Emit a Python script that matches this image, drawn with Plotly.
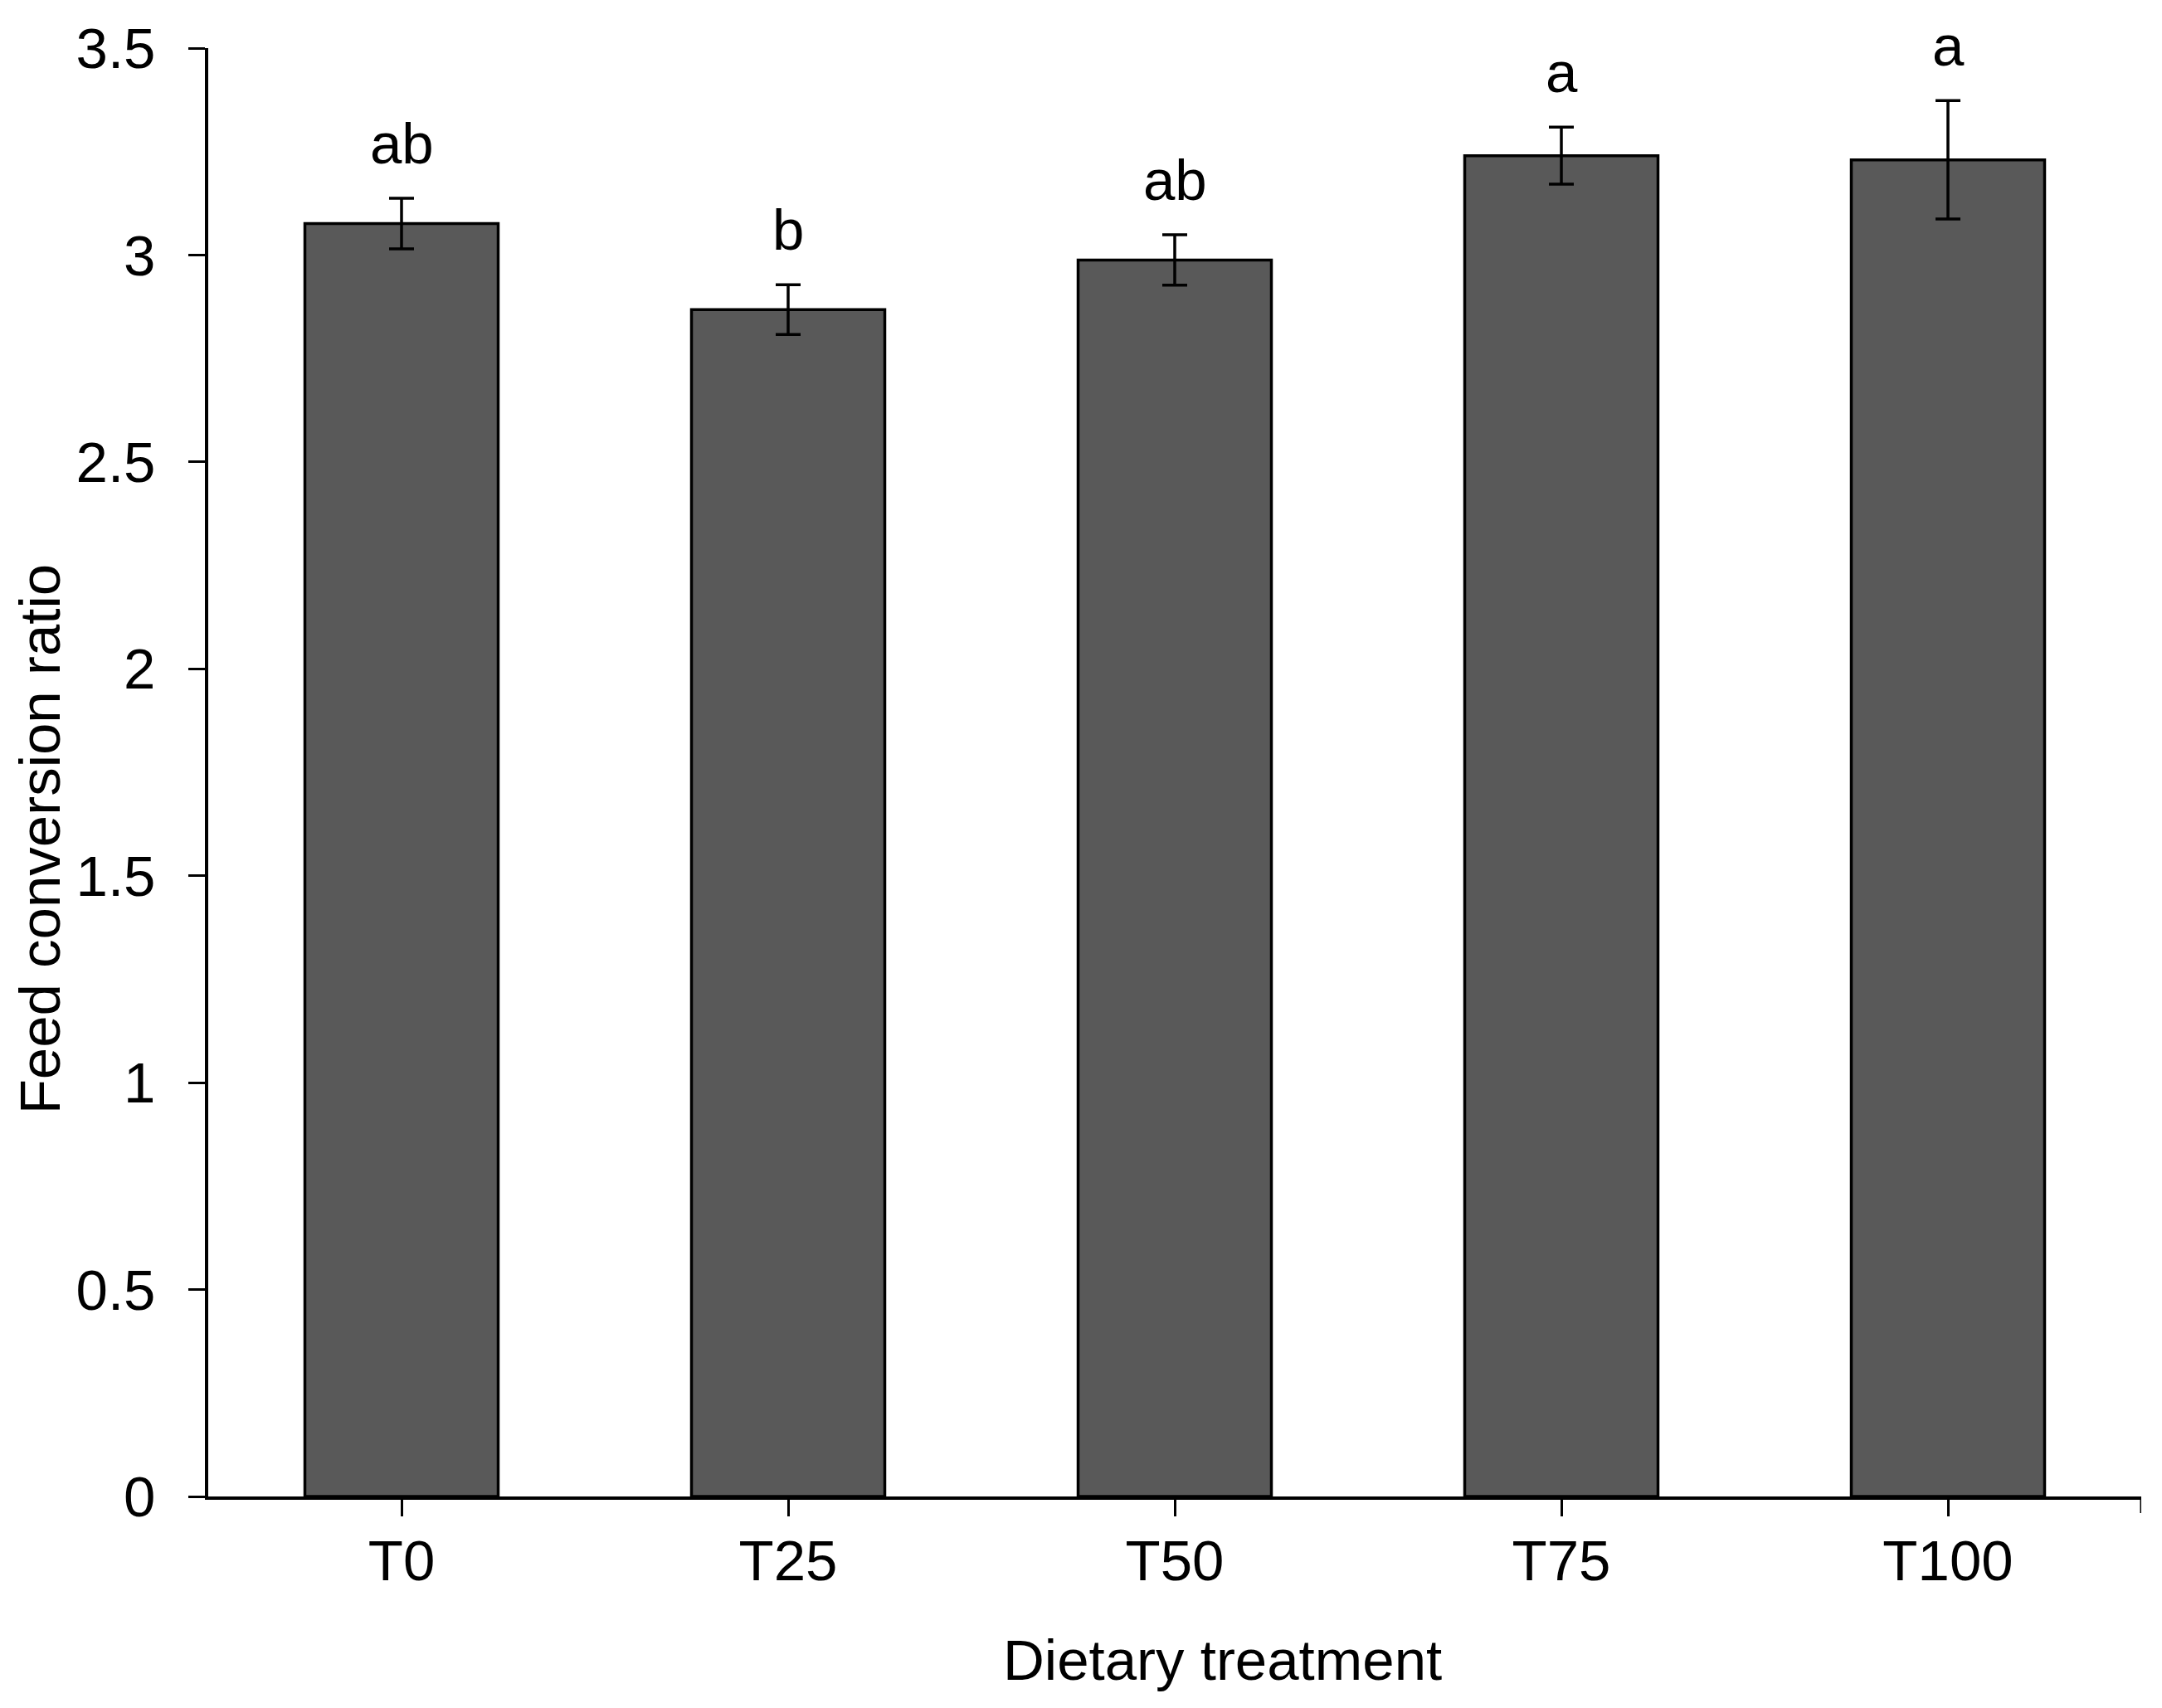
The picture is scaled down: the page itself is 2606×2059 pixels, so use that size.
import plotly.graph_objects as go

categories = ["T0", "T25", "T50", "T75", "T100"]
fcr_mean = [3.076, 2.868, 2.988, 3.24, 3.23]
fcr_se = [0.061, 0.060, 0.061, 0.069, 0.143]
letters = ["ab", "b", "ab", "a", "a"]
y_ticks = [0, 0.5, 1, 1.5, 2, 2.5, 3, 3.5]
y_tick_text = ["0", "0.5", "1", "1.5", "2", "2.5", "3", "3.5"]

FONT = "Liberation Sans, Arial, sans-serif"
FS = 69

fig = go.Figure()
fig.add_trace(go.Bar(
    x=categories,
    y=fcr_mean,
    width=0.5,
    marker=dict(color="#595959", line=dict(color="black", width=3.5)),
    error_y=dict(type="data", array=fcr_se, visible=True,
                 color="black", thickness=3.5, width=15),
    showlegend=False,
))

for c, m, e, t in zip(categories, fcr_mean, fcr_se, letters):
    fig.add_annotation(x=c, y=m + e, text=t, showarrow=False,
                       xanchor="center", yanchor="bottom", yshift=25,
                       font=dict(family=FONT, size=FS, color="black"))

# axis titles
fig.add_annotation(xref="paper", yref="paper", x=0.5245, y=-0.1134,
                   text="Dietary treatment", showarrow=False,
                   xanchor="center", yanchor="middle",
                   font=dict(family=FONT, size=FS, color="black"))
fig.add_annotation(xref="paper", yref="paper", x=-0.0871, y=0.454,
                   text="Feed conversion ratio", showarrow=False, textangle=-90,
                   xanchor="center", yanchor="middle",
                   font=dict(family=FONT, size=FS, color="black"))

# end tick at right of x axis
fig.add_shape(type="line", xref="x", yref="paper", x0=4.5, x1=4.5,
              y0=0, y1=-20 / 1749, line=dict(color="black", width=3))

fig.update_layout(
    width=2590, height=2043, autosize=False,
    margin=dict(l=243, r=17, t=47, b=247),
    paper_bgcolor="white", plot_bgcolor="white",
    font=dict(family=FONT, size=FS, color="black"),
)
fig.update_xaxes(
    range=[-0.5, 4.5], showline=True, linecolor="black", linewidth=3.5,
    ticks="outside", ticklen=20, tickwidth=3, tickcolor="black",
    showgrid=False, zeroline=False, ticklabelstandoff=-6,
    tickfont=dict(family=FONT, size=FS, color="black"),
)
fig.update_yaxes(
    range=[0, 3.5], tickvals=y_ticks, ticktext=y_tick_text,
    showline=True, linecolor="black", linewidth=3.5,
    ticks="outside", ticklen=20, tickwidth=3, tickcolor="black",
    showgrid=False, zeroline=False, ticklabelstandoff=26,
    tickfont=dict(family=FONT, size=FS, color="black"),
)

fig.write_html("out.html")
